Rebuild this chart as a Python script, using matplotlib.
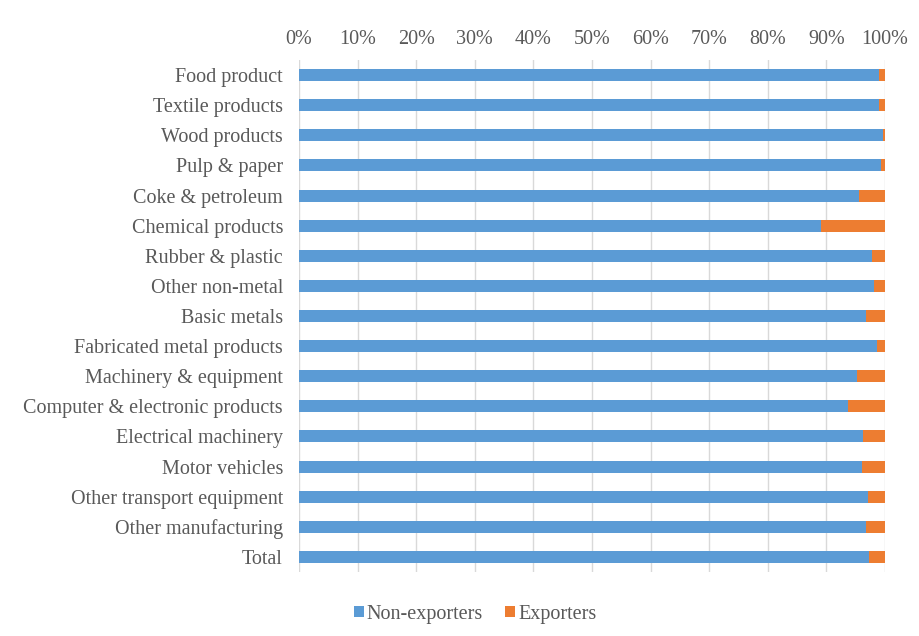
import matplotlib.pyplot as plt
from matplotlib.ticker import PercentFormatter

categories = [
    "Food product", "Textile products", "Wood products", "Pulp & paper",
    "Coke & petroleum", "Chemical products", "Rubber & plastic",
    "Other non-metal", "Basic metals", "Fabricated metal products",
    "Machinery & equipment", "Computer & electronic products",
    "Electrical machinery", "Motor vehicles", "Other transport equipment",
    "Other manufacturing", "Total",
]
non_exporters = [99.0, 99.0, 99.7, 99.4, 95.6, 89.1, 97.7, 98.1, 96.8,
                 98.6, 95.2, 93.7, 96.3, 96.1, 97.1, 96.8, 97.3]
exporters = [100 - v for v in non_exporters]

blue = "#5B9BD5"
orange = "#ED7D31"
text_col = "#595959"

plt.rcParams["font.family"] = ["Liberation Serif", "DejaVu Serif"]

fig = plt.figure(figsize=(9.19, 6.36), dpi=100)
ax = fig.add_axes([299 / 919, 1 - 572 / 636, 586 / 919, 512 / 636])

y = list(range(len(categories)))
ax.barh(y, non_exporters, height=0.4, color=blue, label="Non-exporters", zorder=2)
ax.barh(y, exporters, left=non_exporters, height=0.4, color=orange,
        label="Exporters", zorder=2)

ax.set_xlim(0, 100)
ax.set_ylim(len(categories) - 0.5, -0.5)
ax.set_yticks(y)
ax.set_yticklabels(categories)
ax.set_xticks(range(0, 101, 10))
ax.xaxis.set_major_formatter(PercentFormatter(decimals=0))
ax.xaxis.tick_top()
ax.tick_params(axis="both", length=0, labelsize=14.5, colors=text_col)
ax.tick_params(axis="x", pad=8)
ax.tick_params(axis="y", pad=11.5)
ax.grid(axis="x", color="#D9D9D9", linewidth=1, zorder=0)
for s in ax.spines.values():
    s.set_visible(False)

fig.legend(loc="center", bbox_to_anchor=(475 / 919, 1 - 614 / 636), ncol=2,
           frameon=False, fontsize=14.5, labelcolor=text_col,
           handlelength=0.5, handleheight=0.5, handletextpad=0.15,
           columnspacing=1.1)

fig.savefig("out.png", dpi=100)
